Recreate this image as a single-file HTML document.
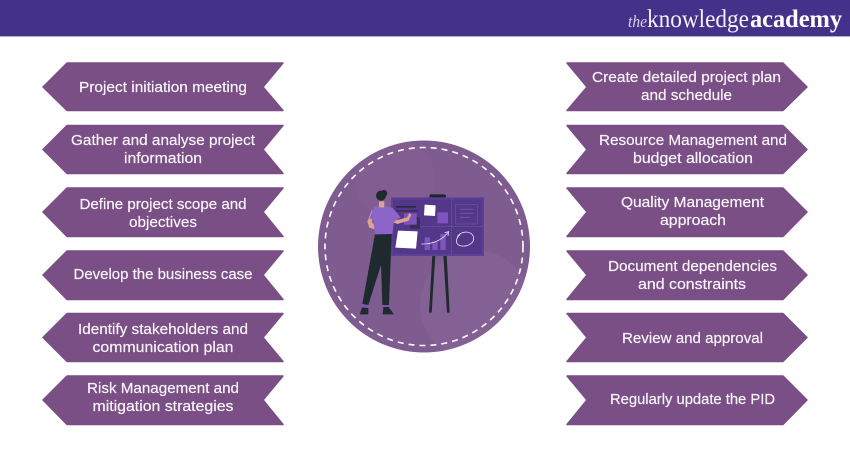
<!DOCTYPE html>
<html>
<head>
<meta charset="utf-8">
<style>
html,body{margin:0;padding:0;background:#fff;width:850px;height:450px;overflow:hidden}
svg{display:block}
.t{font-family:"Liberation Sans",sans-serif;font-size:15px;fill:#f8f3f9;stroke:#f8f3f9;stroke-width:.2px;text-anchor:middle}
</style>
</head>
<body>
<svg width="850" height="450" viewBox="0 0 850 450" xmlns="http://www.w3.org/2000/svg">
<defs><clipPath id="c"><circle cx="424" cy="246.500" r="106"/></clipPath></defs>
<rect width="850" height="450" fill="#fff"/>
<rect width="850" height="36" fill="#44318a"/>
<rect y="36" width="850" height="1" fill="#b5add0"/>
<text x="628" y="27" font-family="'Liberation Serif',serif" font-style="italic" font-size="17" fill="#d8d2e8" textLength="19" lengthAdjust="spacingAndGlyphs">the</text>
<text x="647" y="27" font-family="'Liberation Serif',serif" font-size="25" fill="#f3f0f8" textLength="102" lengthAdjust="spacingAndGlyphs">knowledge</text>
<text x="750" y="27" font-family="'Liberation Serif',serif" font-weight="bold" font-size="25" fill="#fff" textLength="92" lengthAdjust="spacingAndGlyphs">academy</text>

<g fill="#794f85" stroke="#794f85" stroke-width="1.500" stroke-linejoin="round">
<polygon points="43,87 67,63 283,63 263,87 283,110.500 67,110.500"/>
<polygon points="43,149.500 67,125.500 283,125.500 263,149.500 283,173.500 67,173.500"/>
<polygon points="43,212 67,188 283,188 263,212 283,236.500 67,236.500"/>
<polygon points="43,275 67,251 283,251 263,275 283,299.500 67,299.500"/>
<polygon points="43,337.500 67,313.500 283,313.500 263,337.500 283,361.500 67,361.500"/>
<polygon points="43,400 67,376 283,376 263,400 283,424.500 67,424.500"/>
<polygon points="807,87 783,63 567,63 587,87 567,110.500 783,110.500"/>
<polygon points="807,149.500 783,125.500 567,125.500 587,149.500 567,173.500 783,173.500"/>
<polygon points="807,212 783,188 567,188 587,212 567,236.500 783,236.500"/>
<polygon points="807,275 783,251 567,251 587,275 567,299.500 783,299.500"/>
<polygon points="807,337.500 783,313.500 567,313.500 587,337.500 567,361.500 783,361.500"/>
<polygon points="807,400 783,376 567,376 587,400 567,424.500 783,424.500"/>
</g>

<g>
<text class="t" x="163" y="92" textLength="168" lengthAdjust="spacingAndGlyphs">Project initiation meeting</text>
<text class="t" x="163" y="145" textLength="184" lengthAdjust="spacingAndGlyphs">Gather and analyse project</text>
<text class="t" x="163" y="163" textLength="78" lengthAdjust="spacingAndGlyphs">information</text>
<text class="t" x="163" y="209" textLength="167" lengthAdjust="spacingAndGlyphs">Define project scope and</text>
<text class="t" x="163" y="227" textLength="68" lengthAdjust="spacingAndGlyphs">objectives</text>
<text class="t" x="163" y="279" textLength="179" lengthAdjust="spacingAndGlyphs">Develop the business case</text>
<text class="t" x="163" y="334" textLength="170" lengthAdjust="spacingAndGlyphs">Identify stakeholders and</text>
<text class="t" x="163" y="352" textLength="141" lengthAdjust="spacingAndGlyphs">communication plan</text>
<text class="t" x="163" y="393" textLength="152" lengthAdjust="spacingAndGlyphs">Risk Management and</text>
<text class="t" x="163" y="411" textLength="141" lengthAdjust="spacingAndGlyphs">mitigation strategies</text>
<text class="t" x="686.500" y="82" textLength="189" lengthAdjust="spacingAndGlyphs">Create detailed project plan</text>
<text class="t" x="686.500" y="100" textLength="91" lengthAdjust="spacingAndGlyphs">and schedule</text>
<text class="t" x="693" y="145" textLength="188" lengthAdjust="spacingAndGlyphs">Resource Management and</text>
<text class="t" x="693" y="163" textLength="120" lengthAdjust="spacingAndGlyphs">budget allocation</text>
<text class="t" x="692.500" y="207" textLength="143" lengthAdjust="spacingAndGlyphs">Quality Management</text>
<text class="t" x="693" y="225" textLength="66" lengthAdjust="spacingAndGlyphs">approach</text>
<text class="t" x="692.500" y="271" textLength="169" lengthAdjust="spacingAndGlyphs">Document dependencies</text>
<text class="t" x="692" y="289" textLength="108" lengthAdjust="spacingAndGlyphs">and constraints</text>
<text class="t" x="692.500" y="343" textLength="141" lengthAdjust="spacingAndGlyphs">Review and approval</text>
<text class="t" x="692.500" y="404" textLength="165" lengthAdjust="spacingAndGlyphs">Regularly update the PID</text>
</g>

<circle cx="424" cy="246.500" r="106" fill="#7f5c90"/>
<g clip-path="url(#c)">
<circle cx="475" cy="305" r="55" fill="#8a6a9b" opacity=".4"/>
<circle cx="395" cy="180" r="40" fill="#865f96" opacity=".35"/>
</g>
<circle cx="424" cy="246.500" r="99" fill="none" stroke="#fff" stroke-width="1.600" stroke-dasharray="6 5"/>

<g transform="translate(310 130) scale(.33333)">
<rect x="358" y="193" width="50" height="12" rx="6" fill="#1f2530"/>
<polygon points="367,375 376,375 365,548 357,548" fill="#1f2a2e"/>
<polygon points="400,375 410,375 419,548 411,548" fill="#1f2a2e"/>
<rect x="243" y="202" width="279" height="176" fill="#5d3f97"/>
<rect x="249" y="208" width="267" height="164" fill="#53388a"/>
<path d="M330 290H516M425 208V372" stroke="#7d65a8" stroke-width="2" stroke-dasharray="4 3" fill="none"/>
<rect x="258" y="228" width="60" height="5" fill="#2c2a40"/>
<rect x="258" y="240" width="66" height="5" fill="#3a3058"/>
<rect x="300" y="262" width="30" height="34" fill="#3a2c55"/>
<rect x="282" y="250" width="38" height="34" fill="#7d55bd"/>
<polygon points="344,224 377,226 375,258 342,256" fill="#fff"/>
<rect x="382" y="247" width="32" height="33" fill="#7d55bd"/>
<rect x="436" y="224" width="66" height="58" fill="none" stroke="#6d55a0" stroke-width="2"/>
<path d="M450 238H490M450 250H490M450 262H480" stroke="#6d55a0" stroke-width="3" fill="none"/>
<polygon points="264,302 323,304 318,356 256,353" fill="#fff"/>
<rect x="344" y="322" width="16" height="38" fill="#7d55bd"/>
<rect x="367" y="334" width="16" height="26" fill="#7d55bd"/>
<rect x="391" y="312" width="16" height="48" fill="#7d55bd"/>
<path d="M334 342C365 343 395 332 414 308M404 308L416 305L414 318" stroke="#e4dcee" stroke-width="2.500" fill="none"/>
<path d="M442 320C455 300 490 302 491 325C491 348 452 356 441 340C436 331 442 320 450 314" stroke="#e4dcee" stroke-width="2.500" fill="none"/>
<polygon points="195,312 245,312 237,525 217,525 213,405 175,525 157,522" fill="#1f2a2e"/>
<polygon points="157,522 177,526 175,533 155,530" fill="#7d55bd"/>
<rect x="217" y="525" width="20" height="6" fill="#7d55bd"/>
<path d="M156 532L175 534V553H149Z" fill="#1f2a2e"/>
<path d="M220 531H236L252 553H218Z" fill="#1f2a2e"/>
<path d="M186 240L172 275L178 293L195 298L192 285L185 275L192 258Z" fill="#e0a392"/>
<path d="M250 262L262 270L292 262L298 248L304 254L296 272L262 282L248 276Z" fill="#e0a392"/>
<path d="M192 232C210 226 235 228 248 234L272 262L252 276L247 312L195 313L190 270L178 265Z" fill="#8c65c9"/>
<rect x="207" y="214" width="16" height="18" fill="#e0a392"/>
<circle cx="213" cy="197" r="15" fill="#1f2a30"/>
<circle cx="222" cy="190" r="10" fill="#1f2a30"/>
</g>
</svg>
</body>
</html>
